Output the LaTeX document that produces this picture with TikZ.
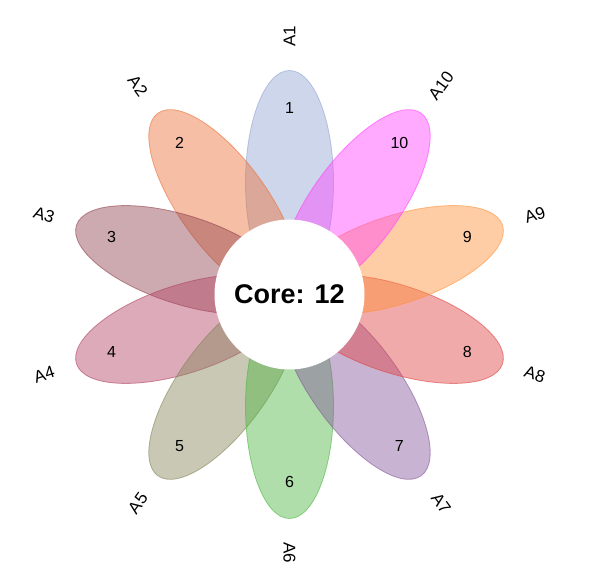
\documentclass[tikz,border=0pt]{standalone}
\usepackage{fontspec}
\setmainfont{Liberation Sans}
\usetikzlibrary{calc}
\definecolor{p1}{RGB}{144,164,208}
\definecolor{p2}{RGB}{235,111,55}
\definecolor{p3}{RGB}{144,66,77}
\definecolor{p4}{RGB}{177,66,99}
\definecolor{p5}{RGB}{133,133,88}
\definecolor{p6}{RGB}{77,182,66}
\definecolor{p7}{RGB}{133,88,155}
\definecolor{p8}{RGB}{222,66,66}
\definecolor{p9}{RGB}{255,144,55}
\definecolor{p10}{RGB}{255,66,255}
\tikzset{
  petal/.style={fill=#1, fill opacity=0.45, draw=#1, draw opacity=0.6, line width=0.8pt},
  numtext/.style={font=\fontsize{16}{19}\selectfont, text=black},
  labtext/.style={font=\fontsize{17}{20}\selectfont, text=black},
  corebox/.style={circle, fill=white, minimum size=150pt, inner sep=0pt,
    font=\fontsize{27}{32}\selectfont\bfseries}
}
\begin{document}
\begin{tikzpicture}[x=1pt,y=1pt]
\useasboundingbox (0,0) rectangle (598,587);
\coordinate (c) at (289.5,292.5);
\foreach \i/\ang in {1/90,2/126,3/162,4/198,5/234,6/270,7/306,8/342,9/18,10/54} {
  \path[petal=p\i, shift={(c)}, rotate=\ang] (112,0) ellipse [x radius=112, y radius=44];
}
\foreach \i/\ang in {1/90,2/126,3/162,4/198,5/234,6/270,7/306,8/342,9/18,10/54} {
  \pgfmathsetmacro\rot{ifthenelse(and(\ang>90,\ang<270),\ang-180,\ang)}
  \node[numtext] (n\i) at ($(c)+(\ang:187)$) {\i};
  \node[labtext, rotate=\rot] (l\i) at ($(c)+(\ang:258)$) {A\i};
}
\node[corebox] (core) at (c) {Core: 12};
\end{tikzpicture}
\end{document}
